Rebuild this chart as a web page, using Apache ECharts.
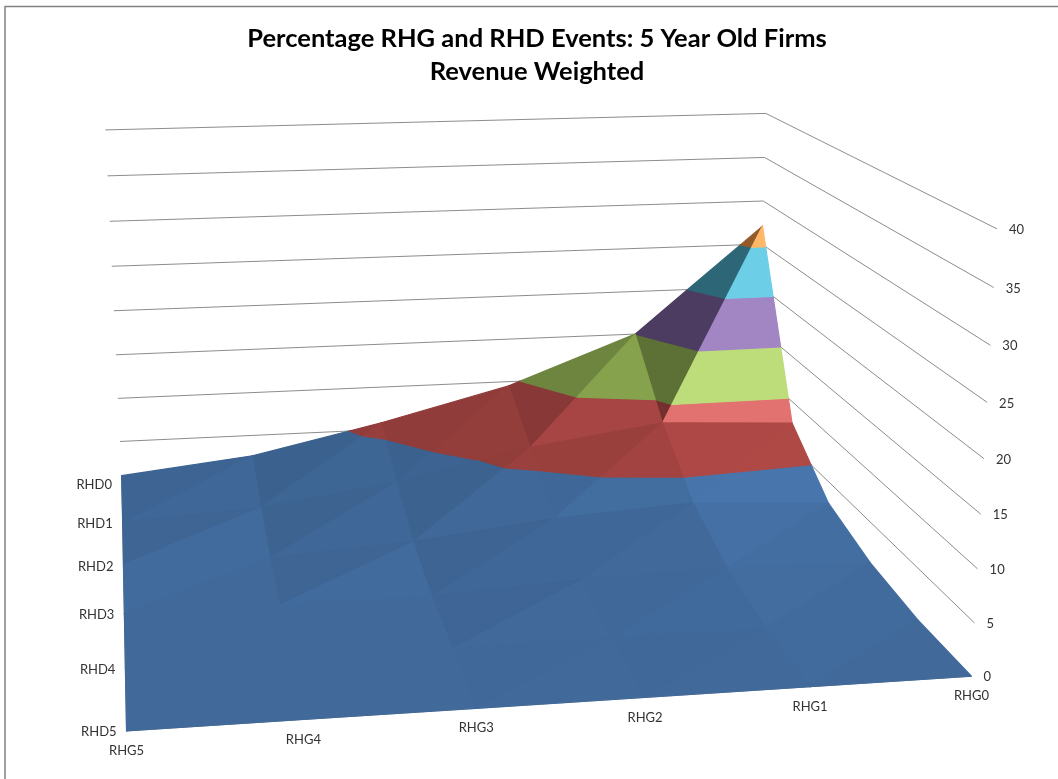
<!DOCTYPE html><html><head><meta charset="utf-8"><style>html,body{margin:0;background:#fff}#c{width:1058px;height:779px}</style>
<script src="https://cdn.jsdelivr.net/npm/echarts@6/dist/echarts.min.js"></script></head><body><div id="c"></div><script>
const rhgLabels=['RHG5','RHG4','RHG3','RHG2','RHG1','RHG0'];
const rhdLabels=['RHD0','RHD1','RHD2','RHD3','RHD4','RHD5'];
const zTicks=[0,5,10,15,20,25,30,35,40];
const rhd0=[1,2.6,5.8,9.5,15,27.1];
const rhd1=[0,0.9,3,6.2,8.3,7.6];
const rhd2=[0.1,0,0.9,2.6,3.5,2.7];
const rhd3=[0,0,0,0.8,1.2,0.9];
const rhd4=[0,0,0,0.1,0.2,0.1];
const rhd5=[0,0,0,0,0,0];
const Z=[rhd0,rhd1,rhd2,rhd3,rhd4,rhd5];
const bandColors=[[79,129,189],[192,80,77],[155,187,89],[128,100,162],[75,172,198],[247,150,70]];
// calibration of the 3D view: [g,d,z] -> screen point
const anchors=[[5,0,0,122,484],[5,5,0,127,731],[0,5,0,972,677],[5,0,40,105,130],[0,0,40,767,114],[0,5,40,996,228],[0,0,0,755,453]];
function solve(A,b){const n=b.length;for(let i=0;i<n;i++){let m=i;for(let r=i;r<n;r++)if(Math.abs(A[r][i])>Math.abs(A[m][i]))m=r;[A[i],A[m]]=[A[m],A[i]];[b[i],b[m]]=[b[m],b[i]];for(let r=i+1;r<n;r++){const f=A[r][i]/A[i][i];for(let c=i;c<n;c++)A[r][c]-=f*A[i][c];b[r]-=f*b[i];}}const x=Array(n);for(let i=n-1;i>=0;i--){let s=b[i];for(let c=i+1;c<n;c++)s-=A[i][c]*x[c];x[i]=s/A[i][i];}return x;}
const rows=[],rhs=[];anchors.forEach(([g,d,z,u,v])=>{z/=8;u/=100;v/=100;rows.push([g,d,z,1,0,0,0,0,-u*g,-u*d,-u*z]);rhs.push(u);rows.push([0,0,0,0,g,d,z,1,-v*g,-v*d,-v*z]);rhs.push(v);});
const N=Array.from({length:11},()=>Array(11).fill(0)),R=Array(11).fill(0);rows.forEach((r,k)=>{for(let i=0;i<11;i++){R[i]+=r[i]*rhs[k];for(let j=0;j<11;j++)N[i][j]+=r[i]*r[j];}});
const P=solve(N,R);
function proj(g,d,z){z/=8;const w=P[8]*g+P[9]*d+P[10]*z+1;return[100*(P[0]*g+P[1]*d+P[2]*z+P[3])/w,100*(P[4]*g+P[5]*d+P[6]*z+P[7])/w];}
const clip=(poly,lo,hi)=>{const cut=(pts,keep,lim)=>{const o=[];pts.forEach((a,i)=>{const b=pts[(i+1)%pts.length],ka=keep(a[2]),kb=keep(b[2]);if(ka)o.push(a);if(ka!==kb){const t=(lim-a[2])/(b[2]-a[2]);o.push([a[0]+t*(b[0]-a[0]),a[1]+t*(b[1]-a[1]),lim]);}});return o;};return cut(cut(poly,z=>z>=lo,lo),z=>z<=hi,hi);};
function shade(t){const [a,b,c]=t;const u=[-(b[0]-a[0]),b[1]-a[1],(b[2]-a[2])*0.1],v=[-(c[0]-a[0]),c[1]-a[1],(c[2]-a[2])*0.1];let n=[u[1]*v[2]-u[2]*v[1],u[2]*v[0]-u[0]*v[2],u[0]*v[1]-u[1]*v[0]];if(n[2]<0)n=n.map(x=>-x);const l=Math.hypot(...n);n=n.map(x=>x/l);const ny=Math.abs(n[1]),sy=Math.sign(n[1]);return 0.82+0.45*n[0]*Math.abs(n[0])+0.04*Math.tanh(n[0]/0.08)+sy*(0.08*ny+0.6*ny**4);}
function tint(base,s){const f=s<=1?s:1,add=s>1?(s-1)*120:0;return 'rgb('+base.map(c=>Math.min(255,Math.round(c*f+add))).join(',')+')';}
const pieces=[];
for(let d=0;d<5;d++)for(let i=5;i>=1;i--){const v=(ii,dd)=>[5-ii,dd,Z[dd][ii]];
 [[v(i,d),v(i-1,d),v(i-1,d+1)],[v(i,d),v(i,d+1),v(i-1,d+1)]].forEach(t=>{const s=shade(t);bandColors.forEach((c,bi)=>{const p=clip(t,bi*5,bi*5+5);if(p.length>2)pieces.push({value:[bi,s].concat(p.flat())});});});}
const wall=[];zTicks.forEach(z=>{if(z>0){wall.push([5,0,z,0,0,z]);wall.push([0,0,z,0,5,z]);}});wall.push([5,5,0,0,5,0]);wall.push([5,0,0,5,5,0]);
const labels=[];rhdLabels.forEach((t,i)=>labels.push({value:[5,i,0,-10,1,0],name:t}));rhgLabels.forEach((t,i)=>labels.push({value:[5-i,5,0,0,20,1],name:t}));zTicks.forEach(z=>labels.push({value:[0,5,z,12,1,2],name:String(z)}));
const ch=echarts.init(document.getElementById('c'));
ch.setOption({animation:false,backgroundColor:'#fff',
title:{text:'Percentage RHG and RHD Events: 5 Year Old Firms\nRevenue Weighted',left:532,top:17,textAlign:'center',textStyle:{fontFamily:'Lato',fontWeight:'bold',fontSize:25.5,lineHeight:33,color:'#000'}},
grid:{left:0,right:0,top:0,bottom:0},xAxis:{type:'value',min:0,max:1058,show:false},yAxis:{type:'value',min:0,max:779,inverse:true,show:false},
graphic:[{type:'line',shape:{x1:5,y1:6.5,x2:1058,y2:6.5},style:{stroke:'#808080',lineWidth:1.5}},{type:'line',shape:{x1:5,y1:6,x2:5,y2:779},style:{stroke:'#808080',lineWidth:1.5}}],
series:[{type:'custom',clip:false,silent:true,z:1,data:wall,renderItem:(p,api)=>{const a=api.coord(proj(api.value(0),api.value(1),api.value(2))),b=api.coord(proj(api.value(3),api.value(4),api.value(5)));return{type:'line',shape:{x1:a[0],y1:a[1],x2:b[0],y2:b[1]},style:{stroke:'#8c8c8c',lineWidth:1}}}},
{type:'custom',clip:false,silent:true,z:2,data:pieces,dimensions:Array.from({length:32},(_, i)=>'v'+i),encode:{x:2,y:3},renderItem:(p,api)=>{const pts=[];const arr=pieces[p.dataIndex].value;for(let k=2;k<arr.length;k+=3)pts.push(api.coord(proj(arr[k],arr[k+1],arr[k+2])));const col=tint(bandColors[arr[0]],arr[1]);return{type:'polygon',shape:{points:pts},style:{fill:col,stroke:col,lineWidth:1.2,lineJoin:'round'}}}},
{type:'custom',clip:false,silent:true,z:3,data:labels,renderItem:(p,api)=>{const v=labels[p.dataIndex].value,c=api.coord(proj(v[0],v[1],v[2]));return{type:'text',x:c[0]+v[3],y:c[1]+v[4],style:{text:labels[p.dataIndex].name,fill:'#333',fontFamily:'Lato',fontSize:13,align:['right','center','left'][v[5]],verticalAlign:'middle'}}}}]});
</script></body></html>
